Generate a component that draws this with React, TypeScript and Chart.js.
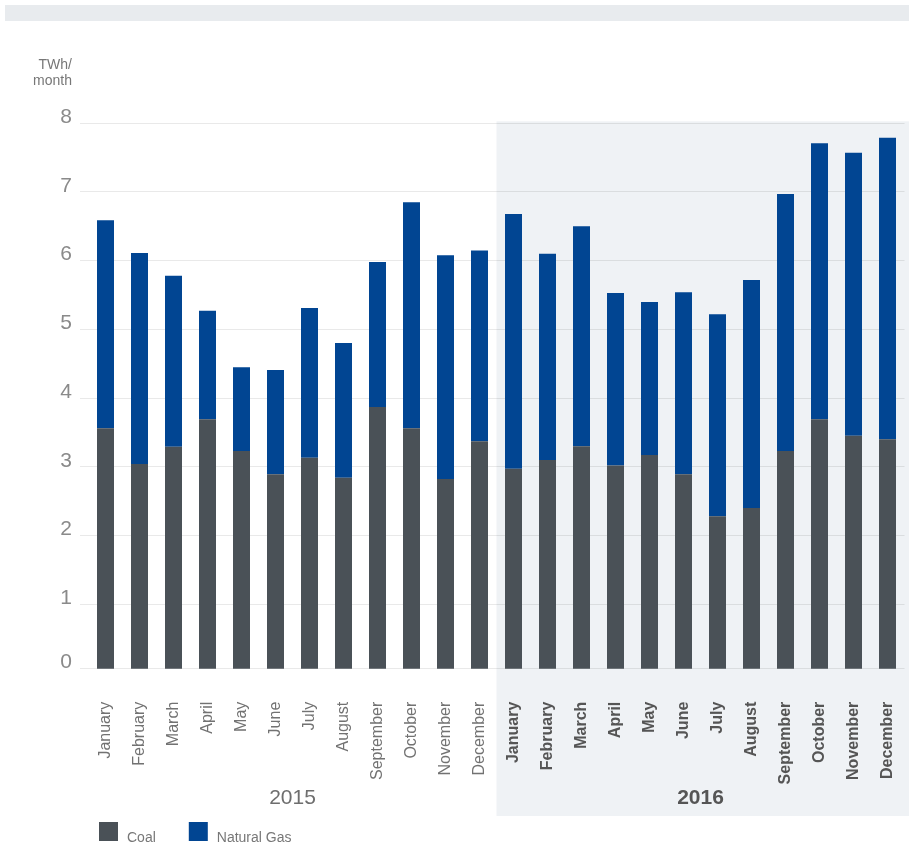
import React, { useEffect, useRef } from "react";
import { Chart, registerables } from "chart.js";

Chart.register(...registerables);

const months = ["January", "February", "March", "April", "May", "June", "July", "August", "September", "October", "November", "December"];
const years = ["2015", "2016"];
const categories = [...months, ...months];
const coal = [3.56, 3.04, 3.29, 3.69, 3.23, 2.89, 3.13, 2.84, 3.87, 3.56, 2.82, 3.37, 2.97, 3.10, 3.30, 3.02, 3.17, 2.89, 2.28, 2.40, 3.23, 3.69, 3.45, 3.40];
const naturalGas = [3.03, 3.07, 2.49, 1.58, 1.22, 1.52, 2.18, 1.96, 2.11, 3.29, 3.26, 2.78, 3.71, 3.00, 3.20, 2.51, 2.23, 2.65, 2.94, 3.32, 3.74, 4.02, 4.12, 4.39];
const yTicks = [0, 1, 2, 3, 4, 5, 6, 7, 8];
const unitLabel = ["TWh/", "month"];

const FONT = "'Liberation Sans', Arial, Helvetica, sans-serif";
const COAL_COLOR = "#4a5157";
const GAS_COLOR = "#014592";

const decorPlugin = {
  id: "decor",
  beforeDraw(chart: any) {
    const ctx = chart.ctx;
    const x = chart.scales.x;
    const area = chart.chartArea;
    ctx.save();
    ctx.fillStyle = "#e8ebee";
    ctx.fillRect(5, 5, chart.width - 5, 16);
    const split = (x.getPixelForValue(11) + x.getPixelForValue(12)) / 2;
    ctx.fillStyle = "#eff2f5";
    ctx.fillRect(split, area.top - 2, chart.width - split, 816 - (area.top - 2));
    ctx.restore();
  },
  afterDraw(chart: any) {
    const ctx = chart.ctx;
    const x = chart.scales.x;
    ctx.save();
    ctx.font = `14px ${FONT}`;
    ctx.fillStyle = "#777";
    ctx.textAlign = "right";
    ctx.textBaseline = "alphabetic";
    ctx.fillText(unitLabel[0], 72, 69);
    ctx.fillText(unitLabel[1], 72, 85);
    ctx.textAlign = "center";
    ctx.textBaseline = "middle";
    years.forEach((yr, i) => {
      const cx = (x.getPixelForValue(i * 12) + x.getPixelForValue(i * 12 + 11)) / 2;
      ctx.font = i === 1 ? `bold 21px ${FONT}` : `21px ${FONT}`;
      ctx.fillStyle = i === 1 ? "#555" : "#6e6e6e";
      ctx.fillText(yr, cx, 798);
    });
    let lx = 99;
    ctx.textAlign = "left";
    ctx.textBaseline = "alphabetic";
    ctx.font = `14px ${FONT}`;
    chart.data.datasets.forEach((ds: any) => {
      ctx.fillStyle = ds.backgroundColor;
      ctx.fillRect(lx, 822, 19, 19);
      ctx.fillStyle = "#777";
      ctx.fillText(ds.label, lx + 28, 842);
      lx += 28 + ctx.measureText(ds.label).width + 33;
    });
    ctx.restore();
  },
};

export default function App() {
  const ref = useRef<HTMLCanvasElement>(null);
  useEffect(() => {
    document.body.style.margin = "0";
    const canvas = ref.current!;
    const chart = new Chart(canvas, {
      type: "bar",
      data: {
        labels: categories,
        datasets: [
          { label: "Coal", data: coal, backgroundColor: COAL_COLOR },
          { label: "Natural Gas", data: naturalGas, backgroundColor: GAS_COLOR },
        ],
      },
      options: {
        animation: false,
        responsive: false,
        devicePixelRatio: 1,
        layout: { padding: { left: 0, right: 4.5, top: 123.3, bottom: 0 } },
        datasets: { bar: { categoryPercentage: 1, barPercentage: 0.5 } },
        plugins: { legend: { display: false }, tooltip: { enabled: false } },
        scales: {
          x: {
            stacked: true,
            grid: { display: false, drawTicks: false },
            border: { display: false },
            ticks: {
              autoSkip: false,
              minRotation: 90,
              maxRotation: 90,
              padding: 33,
              font: (c: any) => ({ family: FONT, size: 16, weight: c.index >= 12 ? "bold" : "normal" }),
              color: (c: any) => (c.index >= 12 ? "#555" : "#727272"),
            },
            afterFit: (s: any) => {
              s.height = 844 - 668.7;
              s.paddingLeft = 0;
              s.paddingRight = 0;
            },
          },
          y: {
            stacked: true,
            min: 0.06,
            max: 8,
            grid: { color: "rgba(0,0,0,0.085)", lineWidth: 1, tickLength: 8.5, drawTicks: true },
            border: { display: false },
            afterBuildTicks: (s: any) => {
              s.ticks = yTicks.map((v) => ({ value: v === 0 ? 0.06 : v }));
            },
            ticks: {
              padding: 8,
              labelOffset: -6,
              color: "#8a8a8a",
              font: { family: FONT, size: 21 },
              callback: (v: any) => String(Math.round(Number(v))),
            },
            afterFit: (s: any) => {
              s.width = 88.5;
              s.paddingTop = 0;
              s.paddingBottom = 0;
            },
          },
        },
      },
      plugins: [decorPlugin],
    });
    return () => chart.destroy();
  }, []);
  return <canvas ref={ref} width={909} height={844} style={{ display: "block" }} />;
}
